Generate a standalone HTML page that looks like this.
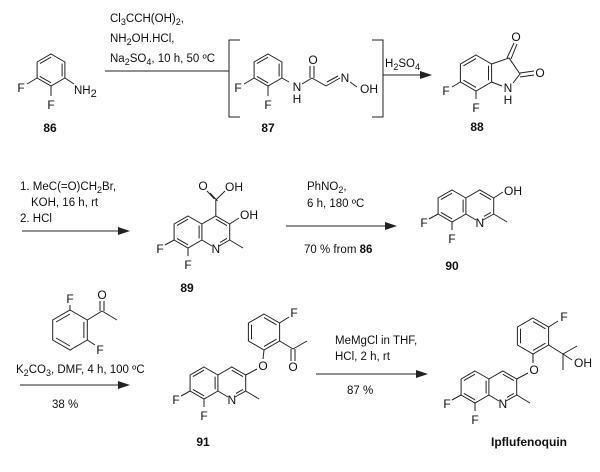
<!DOCTYPE html>
<html><head><meta charset="utf-8"><style>
html,body{margin:0;padding:0;background:#fff;}
svg{display:block;font-family:"Liberation Sans",Arial,sans-serif;}
.b{stroke:#222;stroke-width:1;fill:none;}
.t{font-size:11.5px;fill:#111;}
.a{font-size:12px;fill:#111;text-anchor:middle;dominant-baseline:central;}
.l{font-size:12px;font-weight:bold;fill:#111;text-anchor:middle;}
</style></head><body>
<svg width="600" height="472" viewBox="0 0 600 472" xmlns="http://www.w3.org/2000/svg">

<!-- 86 -->
<g transform="translate(51,70)">
<path class="b" d="M0,-16 L13.9,-8 L13.9,8 L0,16 L-13.9,8 L-13.9,-8 Z"/>
<path class="b" d="M-11.1,-6.4 L0,-12.8 M11.1,-6.4 L11.1,6.4 M0,12.8 L-11.1,6.4"/>
<path class="b" d="M-13.9,8 L-24,14 M0,16 L0,26 M13.9,8 L23,14"/>
<text class="a" x="-30" y="18">F</text>
<text class="a" x="0" y="35">F</text>
<text class="t" x="23" y="24">NH<tspan dy="3" font-size="11">2</tspan></text>
</g>
<text class="l" x="50" y="132">86</text>

<!-- step 1 -->
<text class="t" x="110" y="22">Cl<tspan dy="3" font-size="9">3</tspan><tspan dy="-3">CCH(OH)</tspan><tspan dy="3" font-size="9">2</tspan><tspan dy="-3">,</tspan></text>
<text class="t" x="110" y="42">NH<tspan dy="3" font-size="9">2</tspan><tspan dy="-3">OH.HCl,</tspan></text>
<text class="t" x="110" y="62">Na<tspan dy="3" font-size="9">2</tspan><tspan dy="-3">SO</tspan><tspan dy="3" font-size="9">4</tspan><tspan dy="-3">,  10 h,  50 ºC</tspan></text>
<path class="b" d="M105,71 L229,71"/>
<path class="b" d="M240,40 L229,40 L229,117 L240,117"/>

<!-- 87 -->
<g transform="translate(268,70)">
<path class="b" d="M0,-16 L13.9,-8 L13.9,8 L0,16 L-13.9,8 L-13.9,-8 Z"/>
<path class="b" d="M-11.1,-6.4 L0,-12.8 M11.1,-6.4 L11.1,6.4 M0,12.8 L-11.1,6.4"/>
<path class="b" d="M-13.9,8 L-24,14 M0,16 L0,26 M13.9,8 L21,12"/>
<text class="a" x="-30" y="18">F</text>
<text class="a" x="0" y="35">F</text>
</g>
<text class="a" x="297" y="87">N</text>
<text class="a" x="297" y="99">H</text>
<path class="b" d="M302,84 L312,78 M310,78 L310,66 M314,78 L314,66 M312,78 L326,86 M326,86 L340,78 M327,82 L338,76 M350,82 L357,87"/>
<text class="a" x="313" y="60">O</text>
<text class="a" x="345" y="78">N</text>
<text class="a" x="369" y="89">OH</text>
<text class="l" x="268" y="132">87</text>
<path class="b" d="M372,40 L383,40 L383,117 L372,117"/>
<text class="t" x="385" y="67">H<tspan dy="3" font-size="9">2</tspan><tspan dy="-3">SO</tspan><tspan dy="3" font-size="9">4</tspan></text>
<path class="b" d="M383,75 L422,75"/>
<path d="M432,75 L420,71 L420,79 Z" fill="#222"/>

<!-- 88 -->
<g transform="translate(476,73)">
<path class="b" d="M0,-18 L15.6,-9 L15.6,9 L0,18 L-15.6,9 L-15.6,-9 Z"/>
<path class="b" d="M-12.5,-7.2 L0,-14.4 M12.5,-7.2 L12.5,7.2 M0,14.4 L-12.5,7.2"/>
<path class="b" d="M15.6,-9 L33,-15 L44,1 L37,10 M15.6,9 L26,13"/>
<path class="b" d="M31,-15 L38,-30 M35,-14 L41,-29 M44,0 L58,-2 M44,4 L58,2"/>
<path class="b" d="M-15.6,9 L-24,14 M0,18 L0,26"/>
<text class="a" x="-30" y="18">F</text>
<text class="a" x="0" y="35">F</text>
<text class="a" x="40" y="-36">O</text>
<text class="a" x="64" y="0">O</text>
<text class="a" x="32" y="15">N</text>
<text class="a" x="32" y="27">H</text>
</g>
<text class="l" x="477" y="131">88</text>

<!-- step 2 -->
<text class="t" x="20" y="190">1. MeC(=O)CH<tspan dy="3" font-size="9">2</tspan><tspan dy="-3">Br,</tspan></text>
<text class="t" x="31" y="206">KOH,  16 h,  rt</text>
<text class="t" x="20" y="222">2. HCl</text>
<path class="b" d="M22,231 L120,231"/>
<path d="M130,231 L118,227 L118,235 Z" fill="#222"/>

<!-- 89 -->
<g transform="translate(188,232)">
<path class="b" d="M0,-16 L13.9,-8 L13.9,8 L0,16 L-13.9,8 L-13.9,-8 Z M13.9,-8 L27.8,-16 L41.7,-8 L41.7,8 L31,14 M24,14 L13.9,8"/>
<path class="b" d="M-11.1,-6.4 L0,-12.8 M-11.1,6.4 L0,12.8 M11.1,-6.4 L11.1,6.4 M27.8,-12.8 L38.9,-6.4 M38.9,6.4 L32,10.4"/>
<text class="a" x="27.8" y="17">N</text>
<path class="b" d="M-13.9,8 L-23,13 M0,16 L0,24 M41.7,8 L55,16"/>
<text class="a" x="-28" y="17">F</text>
<text class="a" x="0" y="33">F</text>
<path class="b" d="M27.8,-16 L27.8,-32 M26.5,-33 L19,-41 M29.5,-31 L22,-39 M27.8,-32 L37,-41 M41.7,-8 L51,-14"/>
<text class="a" x="15" y="-46">O</text>
<text class="a" x="46" y="-45">OH</text>
<text class="a" x="61" y="-17">OH</text>
</g>
<text class="l" x="187" y="292">89</text>

<!-- step 3 -->
<text class="t" x="307" y="190">PhNO<tspan dy="3" font-size="9">2</tspan><tspan dy="-3">,</tspan></text>
<text class="t" x="307" y="207">6 h,  180 ºC</text>
<path class="b" d="M286,226 L388,226"/>
<path d="M397,226 L385,222 L385,230 Z" fill="#222"/>
<text class="t" x="304" y="253">70 % from <tspan font-weight="bold">86</tspan></text>

<!-- 90 -->
<g transform="translate(452,206)">
<path class="b" d="M0,-16 L13.9,-8 L13.9,8 L0,16 L-13.9,8 L-13.9,-8 Z M13.9,-8 L27.8,-16 L41.7,-8 L41.7,8 L31,14 M24,14 L13.9,8"/>
<path class="b" d="M-11.1,-6.4 L0,-12.8 M-11.1,6.4 L0,12.8 M11.1,-6.4 L11.1,6.4 M27.8,-12.8 L38.9,-6.4 M38.9,6.4 L32,10.4"/>
<text class="a" x="27.8" y="17">N</text>
<path class="b" d="M-13.9,8 L-23,13 M0,16 L0,24 M41.7,8 L55,16 M41.7,-8 L51,-14"/>
<text class="a" x="-28" y="17">F</text>
<text class="a" x="0" y="33">F</text>
<text class="a" x="61" y="-15">OH</text>
</g>
<text class="l" x="452" y="270">90</text>

<!-- step 4 reagent -->
<g transform="translate(70,330)">
<path class="b" d="M0,-20 L17.3,-10 L17.3,10 L0,20 L-17.3,10 L-17.3,-10 Z"/>
<path class="b" d="M-13.9,-8 L0,-16 M13.9,-8 L13.9,8 M0,16 L-13.9,8"/>
<path class="b" d="M0,-20 L0,-25 M17.3,-10 L32,-19 M30,-19 L30,-29 M34,-19 L34,-29 M32,-19 L47,-10 M17.3,10 L25,15"/>
<text class="a" x="0" y="-31">F</text>
<text class="a" x="32" y="-35">O</text>
<text class="a" x="30" y="20">F</text>
</g>
<text class="t" x="16" y="373">K<tspan dy="3" font-size="9">2</tspan><tspan dy="-3">CO</tspan><tspan dy="3" font-size="9">3</tspan><tspan dy="-3">,  DMF,  4 h,  100 ºC</tspan></text>
<path class="b" d="M20,385 L120,385"/>
<path d="M130,385 L118,381 L118,389 Z" fill="#222"/>
<text class="t" x="52" y="408">38  %</text>

<!-- 91 -->
<g transform="translate(204,383)">
<path class="b" d="M0,-16 L13.9,-8 L13.9,8 L0,16 L-13.9,8 L-13.9,-8 Z M13.9,-8 L27.8,-16 L41.7,-8 L41.7,8 L31,14 M24,14 L13.9,8"/>
<path class="b" d="M-11.1,-6.4 L0,-12.8 M-11.1,6.4 L0,12.8 M11.1,-6.4 L11.1,6.4 M27.8,-12.8 L38.9,-6.4 M38.9,6.4 L32,10.4"/>
<text class="a" x="27.8" y="17">N</text>
<path class="b" d="M-13.9,8 L-23,13 M0,16 L0,24 M41.7,8 L55,16 M41.7,-8 L53,-14"/>
<text class="a" x="-28" y="17">F</text>
<text class="a" x="0" y="33">F</text>
<text class="a" x="59" y="-17">O</text>
</g>
<g transform="translate(264,332)">
<path class="b" d="M0,-18 L15.6,-9 L15.6,9 L0,18 L-15.6,9 L-15.6,-9 Z"/>
<path class="b" d="M-12.5,-7.2 L-12.5,7.2 M0,-14.4 L12.5,-7.2 M12.5,7.2 L0,14.4"/>
<path class="b" d="M0,18 L-1,27 M15.6,-9 L25,-15 M15.6,9 L29,17 M27,17 L27,29 M31,17 L31,29 M29,17 L43,9"/>
<text class="a" x="30" y="-19">F</text>
<text class="a" x="29" y="35">O</text>
</g>
<text class="l" x="203" y="446">91</text>

<!-- step 5 -->
<text class="t" x="335" y="344">MeMgCl in THF,</text>
<text class="t" x="335" y="360">HCl,  2 h,  rt</text>
<path class="b" d="M316,374 L418,374"/>
<path d="M428,374 L416,370 L416,378 Z" fill="#222"/>
<text class="t" x="347" y="394">87  %</text>

<!-- Ipflufenoquin -->
<g transform="translate(475,387)">
<path class="b" d="M0,-16 L13.9,-8 L13.9,8 L0,16 L-13.9,8 L-13.9,-8 Z M13.9,-8 L27.8,-16 L41.7,-8 L41.7,8 L31,14 M24,14 L13.9,8"/>
<path class="b" d="M-11.1,-6.4 L0,-12.8 M-11.1,6.4 L0,12.8 M11.1,-6.4 L11.1,6.4 M27.8,-12.8 L38.9,-6.4 M38.9,6.4 L32,10.4"/>
<text class="a" x="27.8" y="17">N</text>
<path class="b" d="M-13.9,8 L-23,13 M0,16 L0,24 M41.7,8 L55,16 M41.7,-8 L53,-14"/>
<text class="a" x="-28" y="17">F</text>
<text class="a" x="0" y="33">F</text>
<text class="a" x="59" y="-17">O</text>
</g>
<g transform="translate(533,336)">
<path class="b" d="M0,-18 L15.6,-9 L15.6,9 L0,18 L-15.6,9 L-15.6,-9 Z"/>
<path class="b" d="M-12.5,-7.2 L-12.5,7.2 M0,-14.4 L12.5,-7.2 M12.5,7.2 L0,14.4"/>
<path class="b" d="M0,18 L0,27 M15.6,-9 L25,-15 M15.6,9 L30,18 M30,18 L44,10 M30,18 L30,34 M30,18 L39,24"/>
<text class="a" x="31" y="-19">F</text>
<text class="a" x="50" y="27">OH</text>
</g>
<text class="l" x="529" y="446">Ipflufenoquin</text>
</svg>
</body></html>
